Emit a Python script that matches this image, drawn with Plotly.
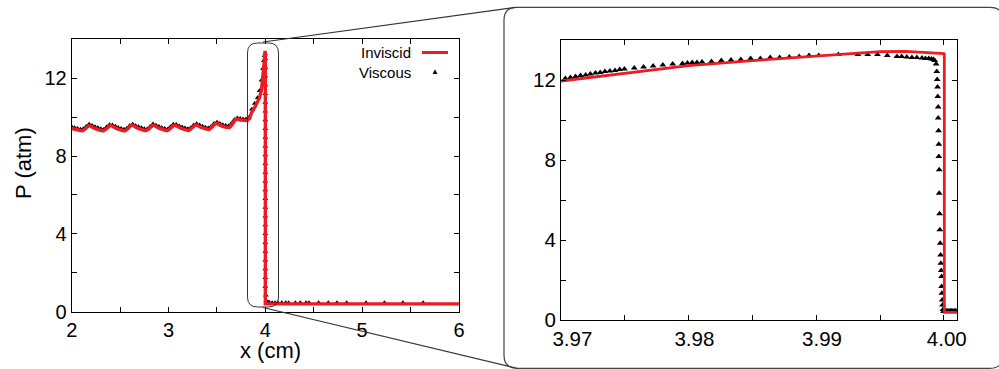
import plotly.graph_objects as go

# ---------------- data: full view (left panel) ----------------
inv_x = [2.00, 2.05, 2.11, 2.18, 2.24, 2.33, 2.40, 2.46, 2.55, 2.62, 2.68, 2.77,
         2.84, 2.90, 2.99, 3.06, 3.12, 3.21, 3.28, 3.34, 3.42, 3.49, 3.55, 3.63,
         3.70, 3.75, 3.80, 3.83, 3.86, 3.89, 3.92, 3.94, 3.96, 3.975, 3.99, 3.997,
         4.0, 4.0, 6.0]
inv_p = [9.43, 9.36, 9.30, 9.56, 9.42, 9.30, 9.57, 9.43, 9.30, 9.58, 9.44, 9.31,
         9.58, 9.44, 9.31, 9.59, 9.45, 9.32, 9.60, 9.47, 9.37, 9.68, 9.55, 9.47,
         9.90, 9.85, 9.83, 9.86, 10.25, 10.5, 10.75, 11.0, 11.4, 12.0, 12.9, 13.4,
         13.3, 0.40, 0.40]

vis_x = [2.00, 2.03, 2.06, 2.09, 2.12, 2.15, 2.18, 2.21, 2.24, 2.27, 2.30, 2.33,
         2.36, 2.39, 2.42, 2.45, 2.48, 2.51, 2.54, 2.57, 2.60, 2.63, 2.66, 2.69,
         2.72, 2.75, 2.78, 2.81, 2.84, 2.87, 2.90, 2.93, 2.96, 2.99, 3.02, 3.05,
         3.08, 3.11, 3.14, 3.17, 3.20, 3.23, 3.26, 3.29, 3.32, 3.35, 3.38, 3.41,
         3.44, 3.47, 3.50, 3.53, 3.56, 3.59, 3.62, 3.65, 3.68, 3.71, 3.74, 3.77,
         3.80, 3.83, 3.86, 3.89, 3.92, 3.94, 3.96, 3.975, 3.985, 3.993, 3.998,
         4.0, 4.0, 4.0, 4.0, 4.0, 4.0, 4.0, 4.0, 4.0, 4.0, 4.0, 4.0, 4.0, 4.0,
         4.0, 4.0, 4.0, 4.0, 4.0, 4.0, 4.0, 4.0, 4.0, 4.0, 4.0, 4.0, 4.0,
         4.005, 4.01, 4.02, 4.03, 4.04, 4.07, 4.10, 4.13, 4.17, 4.21, 4.24, 4.31,
         4.36, 4.42, 4.45, 4.55, 4.65, 4.74, 4.84, 5.04, 5.23, 5.42, 5.63]
vis_p = [9.50, 9.45, 9.41, 9.38, 9.40, 9.52, 9.63, 9.57, 9.50, 9.45, 9.40, 9.37,
         9.49, 9.61, 9.59, 9.53, 9.47, 9.42, 9.38, 9.43, 9.57, 9.63, 9.56, 9.50,
         9.45, 9.40, 9.39, 9.52, 9.65, 9.58, 9.52, 9.46, 9.41, 9.38, 9.50, 9.63,
         9.62, 9.55, 9.49, 9.44, 9.40, 9.45, 9.59, 9.66, 9.59, 9.53, 9.48, 9.44,
         9.52, 9.67, 9.74, 9.67, 9.61, 9.57, 9.54, 9.67, 9.87, 9.96, 9.93, 9.91,
         9.90, 9.98, 10.40, 10.70, 11.0, 11.35, 11.9, 12.5, 12.9, 13.15, 13.25,
         13.0, 12.55, 12.1, 11.65, 11.2, 10.75, 10.3, 9.85, 9.4, 8.95, 8.5, 8.05,
         7.6, 7.15, 6.7, 6.25, 5.8, 5.35, 4.9, 4.45, 4.0, 3.55, 3.1, 2.65, 2.2,
         1.75, 1.3, 0.85, 0.55, 0.50, 0.48, 0.47, 0.46, 0.46, 0.46, 0.46, 0.46,
         0.46, 0.46, 0.46, 0.46, 0.46, 0.46, 0.46, 0.46, 0.46, 0.46, 0.46, 0.46,
         0.46, 0.46, 0.46]

# ---------------- data: zoomed view (right panel) ----------------
zinv_x = [3.970, 3.975, 3.980, 3.985, 3.990, 3.993, 3.995, 3.997, 3.999, 4.0000,
          4.00003, 4.00003, 4.0011]
zinv_p = [11.95, 12.32, 12.72, 12.97, 13.18, 13.33, 13.42, 13.43, 13.38, 13.32,
          13.30, 0.38, 0.38]

zvis_x = [3.97034, 3.97074, 3.97114, 3.97153, 3.97193, 3.97230, 3.97270, 3.97307,
          3.97344, 3.97383, 3.97423, 3.97460, 3.97497, 3.97574, 3.97647, 3.97722,
          3.97798, 3.97875, 3.97952, 3.97991, 3.98028, 3.98065, 3.98105, 3.98179,
          3.98256, 3.98332, 3.98409, 3.98486, 3.98562, 3.98639, 3.98713, 3.98789,
          3.98866, 3.98943, 3.99019, 3.99173, 3.99326, 3.99403, 3.99479, 3.99556,
          3.99632, 3.99669, 3.99709, 3.99749, 3.99788, 3.99828, 3.99855, 3.99881,
          3.99902, 3.99918, 3.99928, 3.99939, 3.99944, 3.99947, 3.99950, 3.99952,
          3.99955, 3.99955, 3.99958, 3.99960, 3.99960, 3.99963, 3.99963, 3.99966,
          3.99968, 3.99971, 3.99974, 3.99976, 3.99979, 3.99982, 3.99982, 3.99984,
          3.99987, 3.99989, 3.99992, 3.99997, 4.00002,
          4.0001, 4.0002, 4.0003, 4.0004, 4.0005, 4.0006, 4.0007, 4.0008, 4.0009, 4.0010]
zvis_p = [12.08, 12.13, 12.18, 12.22, 12.25, 12.30, 12.35, 12.38, 12.42, 12.45,
          12.48, 12.52, 12.55, 12.60, 12.65, 12.70, 12.75, 12.80, 12.83, 12.85,
          12.87, 12.88, 12.90, 12.93, 12.97, 13.00, 13.03, 13.07, 13.08, 13.12,
          13.13, 13.15, 13.18, 13.22, 13.23, 13.27, 13.28, 13.28, 13.27, 13.22,
          13.18, 13.17, 13.15, 13.13, 13.12, 13.10, 13.08, 13.07, 13.05, 13.02,
          12.97, 12.80, 12.43, 12.02, 11.65, 11.18, 10.65, 10.10, 9.46, 8.79,
          8.18, 7.51, 6.34, 5.31, 4.51, 3.84, 3.25, 2.84, 2.47, 2.17, 1.67,
          1.34, 1.00, 0.75, 0.53, 0.42, 0.42,
          0.45, 0.45, 0.45, 0.45, 0.45, 0.45, 0.45, 0.45, 0.45, 0.45]

left_xticks = [2, 2.5, 3, 3.5, 4, 4.5, 5, 5.5, 6]
left_xtext = ["2", "", "3", "", "4", "", "5", "", "6"]
y_ticks = [0, 2, 4, 6, 8, 10, 12, 14]
y_text = ["0", "", "4", "", "8", "", "12", ""]
right_xticks = [3.97, 3.975, 3.98, 3.985, 3.99, 3.995, 4.0]
right_xtext = ["\u00a0\u00a0\u00a0\u00a03.97", "", "\u00a0\u00a03.98", "",
               "\u00a0\u00a03.99", "", "\u00a04.00"]

W, H = 999, 369
RED = "#ec1c24"
FONT = "Liberation Sans, Arial, Helvetica, sans-serif"
SPLIT = 28  # index where the smooth ripple region ends (x = 3.83)


def px(x):
    return x / W


def py(y):
    return 1 - y / H


def rrect(x0, y0, x1, y1, r):
    pts = [
        ("M", (x0 + r, y0)), ("L", (x1 - r, y0)), ("Q", (x1, y0), (x1, y0 + r)),
        ("L", (x1, y1 - r)), ("Q", (x1, y1), (x1 - r, y1)), ("L", (x0 + r, y1)),
        ("Q", (x0, y1), (x0, y1 - r)), ("L", (x0, y0 + r)), ("Q", (x0, y0), (x0 + r, y0)),
    ]
    s = ""
    for p in pts:
        cmd = p[0]
        coords = " ".join(f"{px(a):.5f},{py(b):.5f}" for a, b in p[1:])
        s += f"{cmd} {coords} "
    return s + "Z"


fig = go.Figure()

# left panel
fig.add_trace(go.Scatter(x=vis_x, y=vis_p, mode="markers", xaxis="x", yaxis="y",
                         marker=dict(symbol="triangle-up", size=5, color="black"),
                         showlegend=False))
fig.add_trace(go.Scatter(x=inv_x[:SPLIT], y=inv_p[:SPLIT], mode="lines", xaxis="x", yaxis="y",
                         line=dict(color=RED, width=3.6, shape="spline", smoothing=0.6),
                         showlegend=False))
fig.add_trace(go.Scatter(x=inv_x[SPLIT - 1:], y=inv_p[SPLIT - 1:], mode="lines", xaxis="x", yaxis="y",
                         line=dict(color=RED, width=3.4), showlegend=False))
# right panel
fig.add_trace(go.Scatter(x=zvis_x, y=zvis_p, mode="markers", xaxis="x2", yaxis="y2",
                         marker=dict(symbol="triangle-up", size=6, color="black"),
                         showlegend=False))
fig.add_trace(go.Scatter(x=zinv_x, y=zinv_p, mode="lines", xaxis="x2", yaxis="y2",
                         line=dict(color=RED, width=2.8), showlegend=False))

axis_common = dict(showline=True, linecolor="black", linewidth=1, mirror="ticks",
                   ticks="inside", ticklen=5, tickcolor="black", tickwidth=1,
                   showgrid=False, zeroline=False, automargin=False)

fig.update_layout(
    width=W, height=H, margin=dict(l=0, r=0, t=0, b=0, autoexpand=False),
    paper_bgcolor="white", plot_bgcolor="white",
    font=dict(family=FONT, color="black"),
    xaxis=dict(domain=[px(71.7), px(459)], range=[2, 6], anchor="y",
               tickmode="array", tickvals=left_xticks, ticktext=left_xtext,
               tickfont=dict(size=20), **axis_common),
    yaxis=dict(domain=[py(311.7), py(39.3)], range=[0, 14], anchor="x",
               tickmode="array", tickvals=y_ticks, ticktext=y_text,
               tickfont=dict(size=20), **axis_common),
    xaxis2=dict(domain=[px(561), px(956.7)], range=[3.97, 4.001], anchor="y2",
                tickmode="array", tickvals=right_xticks, ticktext=right_xtext,
                tickfont=dict(size=20.5), **axis_common),
    yaxis2=dict(domain=[py(320), py(40)], range=[0, 14], anchor="x2",
                tickmode="array", tickvals=y_ticks, ticktext=y_text,
                tickfont=dict(size=20.5), **axis_common),
)

shapes = []
shapes.append(dict(type="path", xref="paper", yref="paper", layer="above",
                   path=rrect(247.5, 43, 278.5, 307, 10),
                   line=dict(color="#333333", width=1)))
shapes.append(dict(type="path", xref="paper", yref="paper", layer="above",
                   path=rrect(504, 7.3, 1003, 368.3, 13),
                   line=dict(color="#444444", width=1.2)))
shapes.append(dict(type="line", xref="paper", yref="paper", layer="above",
                   x0=px(263), y0=py(42), x1=px(516), y1=py(7.3),
                   line=dict(color="#333333", width=1.1)))
shapes.append(dict(type="line", xref="paper", yref="paper", layer="above",
                   x0=px(263), y0=py(307.5), x1=px(517), y1=py(368.3),
                   line=dict(color="#333333", width=1.1)))
shapes.append(dict(type="line", xref="paper", yref="paper", layer="above",
                   x0=px(422), y0=py(52.5), x1=px(448), y1=py(52.5),
                   line=dict(color=RED, width=3)))
fig.update_layout(shapes=shapes)

annotations = [
    dict(text="Inviscid", x=px(413), y=py(52.3), xref="paper", yref="paper",
         xanchor="right", yanchor="middle", showarrow=False, font=dict(size=15)),
    dict(text="Viscous", x=px(413), y=py(72.3), xref="paper", yref="paper",
         xanchor="right", yanchor="middle", showarrow=False, font=dict(size=15)),
    dict(text="\u25b2", x=px(434.5), y=py(71.5), xref="paper", yref="paper",
         xanchor="center", yanchor="middle", showarrow=False, font=dict(size=8)),
    dict(text="P (atm)", x=px(23), y=py(163), xref="paper", yref="paper",
         xanchor="center", yanchor="middle", showarrow=False, textangle=-90,
         font=dict(size=22)),
    dict(text="x (cm)", x=px(270), y=py(350), xref="paper", yref="paper",
         xanchor="center", yanchor="middle", showarrow=False, font=dict(size=22)),
]
fig.update_layout(annotations=annotations)

fig.write_html("out.html")
